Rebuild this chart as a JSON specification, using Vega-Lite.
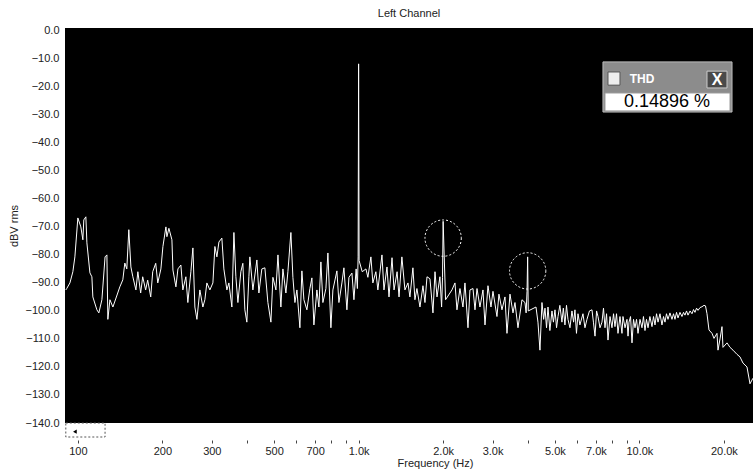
{
  "$schema": "https://vega.github.io/schema/vega-lite/v6.json",
  "width": 688,
  "height": 395,
  "autosize": {"type": "none"},
  "padding": {"left": 65, "top": 28, "right": 0, "bottom": 51},
  "background": "white",
  "config": {
    "view": {"fill": "black", "stroke": null},
    "font": "Liberation Sans",
    "axisY": {"labelOverlap": false}
  },
  "title": {"text": "Left Channel", "fontSize": 11, "fontWeight": "normal", "font": "Liberation Sans", "color": "#222", "offset": 6, "anchor": "middle"},
  "datasets": {
    "spectrum": [
      {"f":90.6,"db":-92.5},{"f":91.3,"db":-92},{"f":93.7,"db":-90},{"f":96.0,"db":-86},{"f":97.6,"db":-80.7},{"f":100,"db":-66.8},{"f":102.5,"db":-70},{"f":104.2,"db":-74.6},{"f":105.0,"db":-67.5},{"f":106.8,"db":-66.4},{"f":107.7,"db":-75.7},{"f":110.4,"db":-86.4},{"f":112.2,"db":-87.8},{"f":113.1,"db":-95},{"f":116.9,"db":-99.6},{"f":118.8,"db":-100.7},{"f":121.8,"db":-96},{"f":125.0,"db":-80.7},{"f":126.9,"db":-80},{"f":127.9,"db":-103},{"f":130.1,"db":-96},{"f":133.3,"db":-98.6},{"f":138.7,"db":-93.6},{"f":141.1,"db":-91.4},{"f":144.6,"db":-88.9},{"f":147.0,"db":-82.9},{"f":149.4,"db":-85},{"f":151.9,"db":-71},{"f":154.5,"db":-84.3},{"f":157.0,"db":-87.8},{"f":161.0,"db":-92.5},{"f":163.6,"db":-86},{"f":167.4,"db":-93.6},{"f":170.2,"db":-87.8},{"f":174.4,"db":-92.5},{"f":177.3,"db":-89},{"f":181.8,"db":-95},{"f":184.8,"db":-86},{"f":189.4,"db":-83},{"f":192.6,"db":-90},{"f":197.6,"db":-85},{"f":200.9,"db":-77},{"f":205.9,"db":-70},{"f":207.6,"db":-73.5},{"f":211.0,"db":-70.5},{"f":216.3,"db":-74.6},{"f":218.1,"db":-85.4},{"f":223.5,"db":-91.4},{"f":227.2,"db":-85},{"f":232.8,"db":-83.6},{"f":236.6,"db":-92.5},{"f":242.5,"db":-87.8},{"f":246.5,"db":-97},{"f":252.7,"db":-86},{"f":256.9,"db":-77.5},{"f":261.1,"db":-98.6},{"f":265.5,"db":-103},{"f":272.0,"db":-92.5},{"f":278.8,"db":-98.6},{"f":283.4,"db":-96},{"f":288.1,"db":-90},{"f":295.3,"db":-92.5},{"f":302.7,"db":-90},{"f":307.7,"db":-77},{"f":312.8,"db":-80.7},{"f":318.0,"db":-75.4},{"f":325.8,"db":-74},{"f":331.2,"db":-85},{"f":339.5,"db":-92.5},{"f":345.1,"db":-90},{"f":353.7,"db":-98.6},{"f":359.6,"db":-72},{"f":365.5,"db":-87.8},{"f":371.6,"db":-97},{"f":380.7,"db":-86},{"f":387.0,"db":-83},{"f":393.4,"db":-99.6},{"f":399.9,"db":-104},{"f":406.6,"db":-87.8},{"f":409.9,"db":-80.7},{"f":420.2,"db":-92.5},{"f":434.2,"db":-81.8},{"f":441.4,"db":-93.6},{"f":452.2,"db":-85},{"f":463.6,"db":-84.6},{"f":475.2,"db":-97},{"f":487.1,"db":-104},{"f":495.2,"db":-88},{"f":507.6,"db":-92.5},{"f":516.1,"db":-80},{"f":528.6,"db":-98.6},{"f":537.4,"db":-85},{"f":550.8,"db":-93.6},{"f":559.9,"db":-86},{"f":573.9,"db":-72},{"f":583.4,"db":-88},{"f":593.1,"db":-97},{"f":602.9,"db":-92.5},{"f":617.8,"db":-106},{"f":628.0,"db":-85.7},{"f":638.4,"db":-96},{"f":654.3,"db":-99.6},{"f":670.6,"db":-92},{"f":681.7,"db":-88.2},{"f":693.0,"db":-105},{"f":710.3,"db":-92.5},{"f":722.0,"db":-98.6},{"f":733.9,"db":-82.5},{"f":746.1,"db":-97},{"f":764.7,"db":-92},{"f":777.3,"db":-79.3},{"f":796.7,"db":-106},{"f":809.9,"db":-92.5},{"f":836.9,"db":-85.7},{"f":850.8,"db":-97},{"f":872.0,"db":-90},{"f":886.4,"db":-84.6},{"f":908.5,"db":-99.6},{"f":923.6,"db":-88},{"f":946.6,"db":-86.5},{"f":962.3,"db":-96},{"f":980,"db":-85},{"f":990,"db":-92},{"f":996,"db":-80.7},{"f":1000,"db":-11.8},{"f":1004,"db":-82},{"f":1030,"db":-86},{"f":1062,"db":-85},{"f":1079,"db":-88},{"f":1106,"db":-80.7},{"f":1124,"db":-90},{"f":1152,"db":-86},{"f":1171,"db":-92.5},{"f":1211,"db":-80},{"f":1231,"db":-92.5},{"f":1262,"db":-84.3},{"f":1283,"db":-95},{"f":1315,"db":-81},{"f":1337,"db":-92.5},{"f":1371,"db":-86},{"f":1393,"db":-95},{"f":1426,"db":-80.7},{"f":1462,"db":-92.5},{"f":1499,"db":-90},{"f":1523,"db":-95},{"f":1561,"db":-84.6},{"f":1587,"db":-96},{"f":1613,"db":-92},{"f":1654,"db":-98.6},{"f":1695,"db":-91},{"f":1723,"db":-97},{"f":1752,"db":-87.8},{"f":1795,"db":-88.5},{"f":1840,"db":-100.7},{"f":1871,"db":-86},{"f":1902,"db":-95},{"f":1948,"db":-87.8},{"f":1975,"db":-98.6},{"f":1990,"db":-88},{"f":2000,"db":-68},{"f":2040,"db":-96},{"f":2150,"db":-92.5},{"f":2204,"db":-90},{"f":2240,"db":-99.6},{"f":2296,"db":-92},{"f":2353,"db":-98.6},{"f":2392,"db":-90},{"f":2452,"db":-106},{"f":2492,"db":-92.5},{"f":2555,"db":-92},{"f":2597,"db":-99.6},{"f":2640,"db":-92},{"f":2705,"db":-98.6},{"f":2773,"db":-92.5},{"f":2819,"db":-105},{"f":2889,"db":-91},{"f":2961,"db":-98.6},{"f":3010,"db":-93},{"f":3110,"db":-102},{"f":3161,"db":-94},{"f":3240,"db":-99.6},{"f":3321,"db":-95},{"f":3376,"db":-108},{"f":3460,"db":-94},{"f":3547,"db":-100.7},{"f":3605,"db":-97},{"f":3695,"db":-106},{"f":3818,"db":-96},{"f":3913,"db":-97},{"f":3950,"db":-100.7},{"f":3980,"db":-93},{"f":4000,"db":-80.7},{"f":4020,"db":-100},{"f":4283,"db":-98.6},{"f":4353,"db":-104},{"f":4425,"db":-114},{"f":4498,"db":-97},{"f":4560,"db":-103},{"f":4611,"db":-99},{"f":4670,"db":-106},{"f":4726,"db":-98.6},{"f":4800,"db":-107},{"f":4883,"db":-100},{"f":4940,"db":-104},{"f":5005,"db":-99.6},{"f":5070,"db":-106},{"f":5130,"db":-102},{"f":5210,"db":-98},{"f":5299,"db":-104},{"f":5360,"db":-99},{"f":5431,"db":-105},{"f":5500,"db":-98},{"f":5567,"db":-103},{"f":5660,"db":-106},{"f":5752,"db":-100},{"f":5830,"db":-104},{"f":5896,"db":-99.6},{"f":5970,"db":-108},{"f":6044,"db":-101},{"f":6140,"db":-105},{"f":6296,"db":-101},{"f":6400,"db":-106},{"f":6506,"db":-103},{"f":6640,"db":-100},{"f":6779,"db":-99.6},{"f":6860,"db":-104},{"f":6949,"db":-109},{"f":7040,"db":-100},{"f":7122,"db":-102},{"f":7240,"db":-106},{"f":7358,"db":-104},{"f":7450,"db":-99},{"f":7542,"db":-106},{"f":7640,"db":-101},{"f":7730,"db":-110.4},{"f":7860,"db":-102},{"f":7987,"db":-106},{"f":8090,"db":-101},{"f":8186,"db":-105.6},{"f":8290,"db":-101},{"f":8391,"db":-108},{"f":8530,"db":-102},{"f":8670,"db":-108},{"f":8741,"db":-102},{"f":8890,"db":-106},{"f":9033,"db":-103},{"f":9110,"db":-109},{"f":9183,"db":-104},{"f":9300,"db":-102},{"f":9412,"db":-111.4},{"f":9530,"db":-103},{"f":9647,"db":-106},{"f":9770,"db":-103},{"f":9888,"db":-108},{"f":10050,"db":-103},{"f":10216,"db":-106},{"f":10340,"db":-102},{"f":10471,"db":-107},{"f":10600,"db":-103},{"f":10733,"db":-106},{"f":10900,"db":-102},{"f":11090,"db":-105.6},{"f":11230,"db":-102},{"f":11367,"db":-105},{"f":11510,"db":-101},{"f":11651,"db":-104},{"f":11840,"db":-101},{"f":12036,"db":-105},{"f":12190,"db":-102},{"f":12336,"db":-104},{"f":12490,"db":-101},{"f":12644,"db":-103},{"f":12850,"db":-100.7},{"f":13065,"db":-103},{"f":13230,"db":-101},{"f":13391,"db":-103},{"f":13560,"db":-100.5},{"f":13725,"db":-102.5},{"f":13950,"db":-100.5},{"f":14181,"db":-102},{"f":14360,"db":-100.5},{"f":14535,"db":-101.5},{"f":14720,"db":-100},{"f":14898,"db":-101.5},{"f":15150,"db":-100},{"f":15394,"db":-101},{"f":15590,"db":-99.5},{"f":15779,"db":-100.5},{"f":15980,"db":-99},{"f":16173,"db":-99.8},{"f":16440,"db":-98.8},{"f":16710,"db":-98.5},{"f":16986,"db":-98},{"f":17200,"db":-98.2},{"f":17410,"db":-101},{"f":17698,"db":-106.8},{"f":18140,"db":-108},{"f":18440,"db":-109.8},{"f":18898,"db":-108},{"f":19054,"db":-114},{"f":19370,"db":-110},{"f":19690,"db":-105.6},{"f":19852,"db":-113},{"f":20515,"db":-111.4},{"f":21028,"db":-113},{"f":21552,"db":-114},{"f":22270,"db":-115.5},{"f":22820,"db":-116.4},{"f":23390,"db":-118.6},{"f":24170,"db":-120},{"f":24770,"db":-126},{"f":25390,"db":-124}
    ],
    "circles": [{"f": 2000, "db": -74}, {"f": 4000, "db": -85.7}],
    "thdFrame": [{"f": 7418, "f2": 21376, "db": -11.1, "d2": -29.0}],
    "thdValueBox": [{"f": 7542, "f2": 21028, "db": -22.2, "d2": -28.6}],
    "thdCheck": [{"f": 7730, "f2": 8529, "db": -14.7, "d2": -19.4}],
    "thdClose": [{"f": 17410, "f2": 20515, "db": -14.4, "d2": -20.4}],
    "thdLabel": [{"f": 10216, "db": -17.2, "label": "THD"}],
    "thdCloseLabel": [{"f": 18900, "db": -17.4, "label": "X"}],
    "thdValue": [{"f": 12541, "db": -25.4, "label": "0.14896 %"}],
    "scrollBox": [{"f": 90.6, "f2": 125, "db": -140, "d2": -145}],
    "arrows": [{"f": 97.6, "db": -143.1}]
  },
  "encoding": {
    "x": {
      "field": "f", "type": "quantitative",
      "scale": {"type": "log", "domain": [90, 25390], "nice": false},
      "axis": {
        "values": [100,200,300,400,500,600,700,800,900,1000,2000,3000,4000,5000,6000,7000,8000,9000,10000,20000],
        "labelExpr": "indexof([100,200,300,500,700], datum.value) >= 0 ? format(datum.value, 'd') : (indexof([1000,2000,3000,5000,7000,10000,20000], datum.value) >= 0 ? format(datum.value/1000, '.1f') + 'k' : '')",
        "title": "Frequency (Hz)",
        "titleX": 370,
        "titleAlign": "center",
        "domain": false, "grid": false,
        "ticks": true, "tickSize": 3, "tickColor": "#444",
        "offset": 17, "labelPadding": 2,
        "labelFontSize": 11, "labelColor": "#222", "labelFont": "Liberation Sans",
        "titleFontSize": 11, "titleFontWeight": "normal", "titleColor": "#222", "titleFont": "Liberation Sans",
        "titlePadding": 1,
        "labelOverlap": false, "labelFlush": false, "labelBound": false
      }
    },
    "y": {
      "field": "db", "type": "quantitative",
      "scale": {"domain": [-140, 1], "nice": false, "zero": false},
      "axis": {
        "values": [-140,-130,-120,-110,-100,-90,-80,-70,-60,-50,-40,-30,-20,-10,0],
        "format": ".1f",
        "title": "dBV rms",
        "domain": false, "grid": false, "ticks": false,
        "labelPadding": 6,
        "labelFontSize": 11, "labelColor": "#222", "labelFont": "Liberation Sans",
        "titleFontSize": 11, "titleFontWeight": "normal", "titleColor": "#222", "titleFont": "Liberation Sans",
        "titlePadding": 6,
        "labelOverlap": false, "labelBound": false, "labelSeparation": 0
      }
    }
  },
  "layer": [
    {
      "data": {"name": "spectrum"},
      "mark": {"type": "line", "color": "white", "strokeWidth": 1, "clip": true}
    },
    {
      "data": {"name": "circles"},
      "mark": {"type": "point", "shape": "circle", "filled": false, "size": 1320, "stroke": "white", "strokeWidth": 1, "strokeDash": [2, 2], "opacity": 1}
    },
    {
      "data": {"name": "thdFrame"},
      "mark": {"type": "rect", "fill": "#8c8c8c", "stroke": "#bdbdbd", "strokeWidth": 1},
      "encoding": {"x2": {"field": "f2"}, "y2": {"field": "d2"}}
    },
    {
      "data": {"name": "thdValueBox"},
      "mark": {"type": "rect", "fill": "white", "stroke": "#9a9a9a", "strokeWidth": 1},
      "encoding": {"x2": {"field": "f2"}, "y2": {"field": "d2"}}
    },
    {
      "data": {"name": "thdCheck"},
      "mark": {"type": "rect", "fill": "#eeeeee", "stroke": "#555555", "strokeWidth": 1},
      "encoding": {"x2": {"field": "f2"}, "y2": {"field": "d2"}}
    },
    {
      "data": {"name": "thdClose"},
      "mark": {"type": "rect", "fill": "#4a4a4a", "stroke": "#cccccc", "strokeWidth": 1},
      "encoding": {"x2": {"field": "f2"}, "y2": {"field": "d2"}}
    },
    {
      "data": {"name": "thdLabel"},
      "mark": {"type": "text", "color": "white", "fontSize": 12, "fontWeight": "bold", "font": "Liberation Sans", "align": "center", "baseline": "middle"},
      "encoding": {"text": {"field": "label"}}
    },
    {
      "data": {"name": "thdCloseLabel"},
      "mark": {"type": "text", "color": "white", "fontSize": 16, "fontWeight": "bold", "font": "Liberation Sans", "align": "center", "baseline": "middle"},
      "encoding": {"text": {"field": "label"}}
    },
    {
      "data": {"name": "thdValue"},
      "mark": {"type": "text", "color": "black", "fontSize": 18, "font": "Liberation Sans", "align": "center", "baseline": "middle"},
      "encoding": {"text": {"field": "label"}}
    },
    {
      "data": {"name": "scrollBox"},
      "mark": {"type": "rect", "fill": null, "fillOpacity": 0, "stroke": "#555555", "strokeWidth": 1, "strokeDash": [2, 2], "clip": false},
      "encoding": {"x2": {"field": "f2"}, "y2": {"field": "d2"}}
    },
    {
      "data": {"name": "arrows"},
      "mark": {"type": "point", "shape": "triangle-left", "filled": true, "size": 18, "color": "black", "opacity": 1, "clip": false}
    }
  ]
}
